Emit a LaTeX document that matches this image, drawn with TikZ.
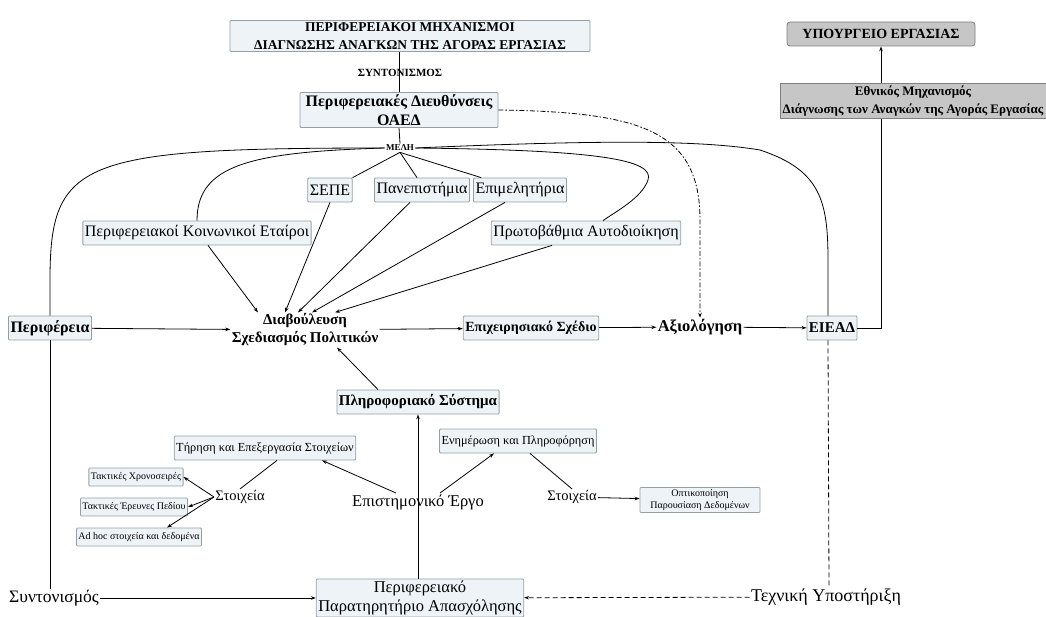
\documentclass[tikz,border=0pt]{standalone}
\usepackage{fontspec}
\setmainfont{Liberation Serif}
\usetikzlibrary{arrows.meta}
\usetikzlibrary{calc}
\usetikzlibrary{positioning}

\definecolor{boxfill}{RGB}{237,243,246}
\definecolor{boxline}{RGB}{150,158,162}
\definecolor{greyfill}{RGB}{198,198,198}

\begin{document}
\begin{tikzpicture}[x=1pt, y=-1pt, line width=0.8pt, >={Stealth[length=5pt,width=3.5pt]},
  box/.style={draw=boxline, fill=boxfill, rounded corners=1pt, inner sep=2pt, minimum height=24pt, align=center, font=\fontsize{16}{19}\selectfont},
  bbox/.style={box, font=\bfseries\fontsize{15}{18}\selectfont},
  gbox/.style={bbox, fill=greyfill, draw=gray},
  sbox/.style={box, minimum height=18pt, font=\fontsize{10}{12}\selectfont},
  txt/.style={align=center, inner sep=1pt, font=\fontsize{16.5}{19}\selectfont},
  btxt/.style={txt, font=\bfseries\fontsize{15}{18}\selectfont}]
        \useasboundingbox (0,0) rectangle (1046,617);

        % top of the scheme
        \node[bbox, minimum width=360pt, font=\bfseries\fontsize{13.5}{18}\selectfont] (mech) at (410,36) {ΠΕΡΙΦΕΡΕΙΑΚΟΙ ΜΗΧΑΝΙΣΜΟΙ\\ΔΙΑΓΝΩΣΗΣ ΑΝΑΓΚΩΝ ΤΗΣ ΑΓΟΡΑΣ ΕΡΓΑΣΙΑΣ};
        \node[btxt, font=\bfseries\fontsize{11}{12}\selectfont] (synt) at (400,73) {ΣΥΝΤΟΝΙΣΜΟΣ};
        \node[bbox, minimum width=198pt, font=\bfseries\fontsize{16}{19}\selectfont] (ped) at (399,110) {Περιφερειακές Διευθύνσεις\\ΟΑΕΔ};
        \node[btxt, font=\bfseries\fontsize{9}{10}\selectfont] (mel) at (400,148) {ΜΕΛΗ};
        \node[gbox, rounded corners=3pt, minimum width=188pt, font=\bfseries\fontsize{14}{16}\selectfont] (ypo) at (881,34) {ΥΠΟΥΡΓΕΙΟ ΕΡΓΑΣΙΑΣ};
        \node[gbox, rounded corners=0pt, minimum width=266pt, font=\bfseries\fontsize{13}{18}\selectfont] (ethn) at (913,101) {Εθνικός Μηχανισμός\\Διάγνωσης των Αναγκών της Αγοράς Εργασίας};

        % members
        \node[box] (sepe) at (330,190) {ΣΕΠΕ};
        \node[box] (pan) at (422,190) {Πανεπιστήμια};
        \node[box] (epi) at (520,190) {Επιμελητήρια};
        \node[box] (kei) at (197,233) {Περιφερειακοί Κοινωνικοί Εταίροι};
        \node[box] (pa) at (586,233) {Πρωτοβάθμια Αυτοδιοίκηση};

        % main row
        \node[bbox, font=\bfseries\fontsize{16}{19}\selectfont] (peri) at (50,328) {Περιφέρεια};
        \node[btxt] (dia) at (305,330) {Διαβούλευση\\Σχεδιασμός Πολιτικών};
        \node[bbox, font=\bfseries\fontsize{14}{17}\selectfont] (eps) at (531,328) {Επιχειρησιακό Σχέδιο};
        \node[btxt, font=\bfseries\fontsize{16.5}{19}\selectfont] (axi) at (700,327) {Αξιολόγηση};
        \node[bbox] (eiead) at (832,328) {ΕΙΕΑΔ};

        % information system
        \node[bbox] (pls) at (418,402) {Πληροφοριακό Σύστημα};
        \node[box, font=\fontsize{12.3}{15}\selectfont] (tir) at (265,448) {Τήρηση και Επεξεργασία Στοιχείων};
        \node[box, font=\fontsize{12.3}{15}\selectfont] (enim) at (518,441) {Ενημέρωση και Πληροφόρηση};
        \node[txt, font=\fontsize{14.5}{17}\selectfont] (stl) at (240,497) {Στοιχεία};
        \node[txt] (erg) at (418,502) {Επιστημονικό Έργο};
        \node[txt, font=\fontsize{14.5}{17}\selectfont] (str) at (572,497) {Στοιχεία};
        \node[sbox, minimum width=120pt] (opt) at (700,500) {Οπτικοποίηση\\Παρουσίαση Δεδομένων};
        \node[sbox] (xron) at (136,477) {Τακτικές Χρονοσειρές};
        \node[sbox] (ereu) at (134,507) {Τακτικές Έρευνες Πεδίου};
        \node[sbox] (adh) at (139,537) {Ad hoc στοιχεία και δεδομένα};

        % bottom row
        \node[txt, font=\fontsize{17.5}{20}\selectfont] (syn) at (54,598) {Συντονισμός};
        \node[box, font=\fontsize{16.5}{19}\selectfont] (obs) at (420,598) {Περιφερειακό\\Παρατηρητήριο Απασχόλησης};
        \node[txt, font=\fontsize{18}{21}\selectfont] (tex) at (826,597) {Τεχνική Υποστήριξη};

        \draw (ped.north |- mech.south) -- (ped.north);
        \draw (ped.south) -- (mel.north);
        \draw (mel.south) -- (sepe.north east);
        \draw (mel.south) -- ($(pan.north)+(-5,0)$);
        \draw (mel.south) -- ($(epi.north west)+(8,0)$);
        \draw (mel.west) .. controls (250,152) and (197,165) .. (kei.north);
        \draw (mel.west) .. controls (80,148) and (50,160) .. (50,280) -- (peri.north);
        \draw (mel.east) .. controls (600,150) and (655,160) .. (648,180)
              .. controls (642,198) and (615,212) .. ($(pa.north)+(17,0)$);
        \draw (mel.east) .. controls (600,140) and (700,140) .. (760,150)
              .. controls (820,170) and (828,200) .. (828,260) -- ($(eiead.north)+(-4,0)$);
        \draw[dash pattern=on 5pt off 2pt on 1.5pt off 2pt, ->] (ped.east) .. controls (640,112) and (700,130) .. (700,220) -- (axi.north);

        \draw[->] ($(kei.south)+(11,0)$) -- ($(dia.north)+(-47,0)$);
        \draw[->] (sepe.south) -- ($(dia.north)+(-20,0)$);
        \draw[->] ($(pan.south)+(-12,0)$) -- ($(dia.north)+(-7,0)$);
        \draw[->] ($(epi.south)+(-15,0)$) -- ($(dia.north)+(7,0)$);
        \draw[->] ($(pa.south)+(-34,0)$) -- ($(dia.north)+(30,0)$);

        \draw[->] (peri) -- (dia);
        \draw[->] (dia) -- (eps);
        \draw[->] (eps) -- (axi);
        \draw[->] (axi) -- (eiead);
        \draw (eiead.east) -| (ethn.south -| ypo.south);
        \draw[->] (ethn.north -| ypo.south) -- (ypo.south);

        \draw[->] ($(pls.north)+(-40,0)$) -- ($(dia.south)+(32,0)$);
        \draw[->] (obs.north -| pls.south) -- (pls.south);
        \draw[->] ($(erg.north)+(-22,0)$) -- ($(tir.south)+(57,0)$);
        \draw[->] ($(erg.north)+(22,0)$) -- ($(enim.south)+(-24,0)$);
        \draw ($(tir.south)+(12,0)$) -- (stl.north);
        \draw[->] (stl.west) -- (xron.east);
        \draw[->] (stl.west) -- (ereu.east);
        \draw[->] (stl.west) -- ($(adh.north east)+(-35,0)$);
        \draw ($(enim.south)+(12,0)$) -- (str.north);
        \draw[->] (str) -- (opt);

        \draw (peri.south) -- (syn.north -| peri.south);
        \draw[->] (syn) -- (obs);
        \draw[dash pattern=on 5pt off 3pt] ($(eiead.south)+(-4,0)$) -- ($(tex.north)+(3,0)$);
        \draw[dash pattern=on 5pt off 3pt, ->] (tex) -- (obs);
\end{tikzpicture}
\end{document}
